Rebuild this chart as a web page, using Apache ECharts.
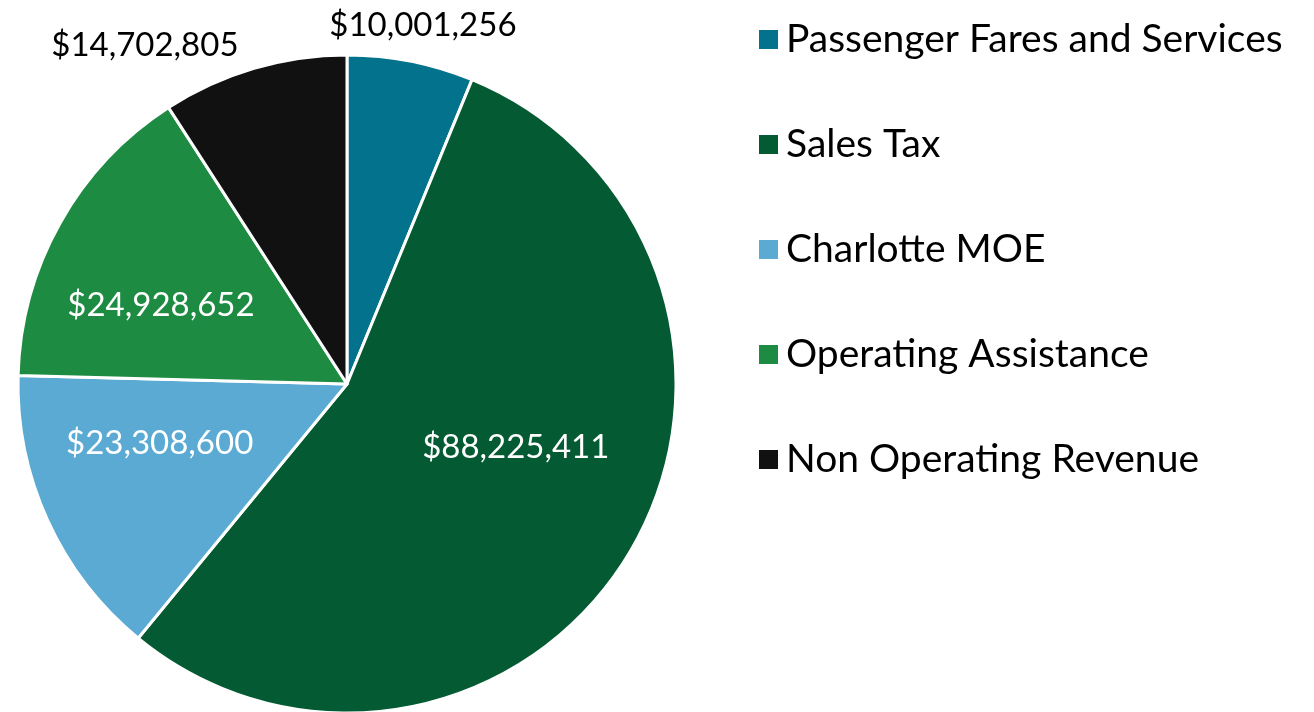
<!DOCTYPE html>
<html>
<head>
<meta charset="utf-8">
<script src="https://cdn.jsdelivr.net/npm/echarts@6/dist/echarts.min.js"></script>
<style>
  html, body { margin: 0; padding: 0; background: #fff; }
  #chart { width: 1314px; height: 712px; }
</style>
</head>
<body>
<div id="chart"></div>
<script>
const categories = [
	"Passenger Fares and Services",
	"Sales Tax",
	"Charlotte MOE",
	"Operating Assistance",
	"Non Operating Revenue",
];
const revenue = [10001256, 88225411, 23308600, 24928652, 14702805];
const colors = ["#03728C", "#045A32", "#5AAAD4", "#1E8B43", "#111111"];
// which labels sit outside the pie
const outsideLabel = [true, false, false, false, true];

const fontFamily = "Lato, 'Open Sans', sans-serif";

const formatMoney = (v) => "$" + v.toLocaleString("en-US");

const chart = echarts.init(document.getElementById("chart"), null, { renderer: "canvas" });

const seriesData = categories.map((name, i) => ({
	name,
	value: revenue[i],
	itemStyle: { color: colors[i] },
	label: outsideLabel[i]
		? { position: "outside", color: "#000" }
		: { position: "inside", color: "#fff" },
}));

// small nudges so labels sit where the original put them
const labelNudge = {
	0: { align: "center" },
	1: { dx: 25, dy: -23 },
	2: { dx: -35, dy: -10 },
	3: { dx: -40, dy: 3 },
	4: { dy: 12 },
};

chart.setOption({
	animation: false,
	legend: {
		orient: "vertical",
		left: 752,
		top: 15,
		itemWidth: 21,
		itemHeight: 21,
		itemGap: 66,
		icon: "rect",
		textStyle: { fontFamily, fontSize: 39, color: "#000", padding: [0, 0, 0, 2] },
		data: categories,
	},
	series: [
		{
			type: "pie",
			center: [347, 384],
			radius: [0, 329],
			startAngle: 90,
			clockwise: true,
			data: seriesData,
			itemStyle: { borderColor: "#fff", borderWidth: 3 },
			label: {
				show: true,
				fontFamily,
				fontSize: 33,
				formatter: (p) => formatMoney(p.value),
			},
			labelLine: { show: false, length: 37, length2: 0 },
			labelLayout: (p) => labelNudge[p.dataIndex] || {},
			emphasis: { disabled: true },
		},
	],
});
</script>
</body>
</html>
